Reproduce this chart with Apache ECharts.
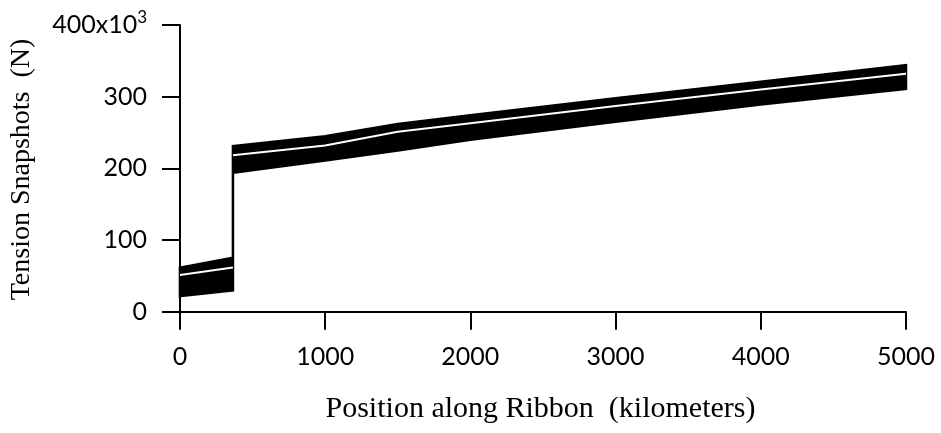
<!DOCTYPE html>
<html>
<head>
<meta charset="utf-8">
<script src="https://cdn.jsdelivr.net/npm/echarts@6/dist/echarts.min.js"></script>
<style>
  html, body { margin: 0; padding: 0; background: #fff; }
  #chart { width: 941px; height: 433px; }
</style>
</head>
<body>
<div id="chart"></div>
<script>
// Position along the ribbon (km); the tension steps up at 365 km.
const positionKm = [0, 365, 365, 1000, 1500, 2000, 3000, 4000, 5000];
// Envelope of the tension snapshots (units of 10^3 N).
const tensionLow  = [22, 30, 194, 211, 225, 240, 265, 289, 311];
const tensionHigh = [61.5, 75.5, 231, 245, 262, 274, 298, 321, 344];
// One highlighted snapshot, before and after the step.
const snapLowKm  = [0, 365];
const snapLow    = [51.5, 62];
const snapHighKm = [365, 1000, 1500, 2000, 3000, 4000, 5000];
const snapHigh   = [218.5, 232, 251, 263, 287, 310, 332];

const xTicks = [0, 1000, 2000, 3000, 4000, 5000];
const yTicks = [0, 100, 200, 300, 400];

const pairs = (xs, ys) => xs.map((x, i) => [x, ys[i]]);

const axisFont = 'Lato';
const titleFont = '"Liberation Serif", "Times New Roman", serif';

// Filled envelope: upper edge left to right, then lower edge back.
function renderBand(params, api) {
  const pts = [];
  positionKm.forEach((x, i) => pts.push(api.coord([x, tensionHigh[i]])));
  for (let i = positionKm.length - 1; i >= 0; i--) pts.push(api.coord([positionKm[i], tensionLow[i]]));
  return {
    type: 'polygon',
    shape: { points: pts },
    style: { fill: '#000', stroke: '#000', lineWidth: 2.5, lineJoin: 'miter' }
  };
}

const chart = echarts.init(document.getElementById('chart'));
chart.setOption({
  animation: false,
  backgroundColor: '#fff',
  grid: { left: 175, right: 35, top: 25, bottom: 119 },
  xAxis: {
    type: 'value',
    min: -34, max: 5000,
    splitLine: { show: false },
    axisLine: { lineStyle: { color: '#000', width: 2 } },
    axisTick: { customValues: xTicks, length: 18, lineStyle: { color: '#000', width: 2 } },
    axisLabel: { customValues: xTicks, color: '#000', fontFamily: axisFont, fontSize: 25, margin: 30,
      formatter: v => String(v) },
    name: 'Position along Ribbon  (kilometers)',
    nameLocation: 'middle',
    nameGap: 80,
    nameTextStyle: { color: '#000', fontFamily: titleFont, fontSize: 30 }
  },
  yAxis: {
    type: 'value',
    min: -3, max: 400,
    splitLine: { show: false },
    axisLine: { lineStyle: { color: '#000', width: 2 } },
    axisTick: { customValues: yTicks, length: 18, lineStyle: { color: '#000', width: 2 } },
    axisLabel: {
      customValues: yTicks,
      color: '#000', fontFamily: axisFont, fontSize: 25, margin: 28,
      formatter: v => v === 400 ? '{a|400x10}{s|3}' : String(v),
      rich: {
        a: { fontFamily: axisFont, fontSize: 25, color: '#000' },
        s: { fontFamily: axisFont, fontSize: 17, color: '#000', verticalAlign: 'top', padding: [0, 0, 14, 0] }
      }
    },
    name: 'Tension Snapshots  (N)',
    nameLocation: 'middle',
    nameGap: 139,
    nameTextStyle: { color: '#000', fontFamily: titleFont, fontSize: 28 }
  },
  series: [
    {
      type: 'custom', data: [[0, 0]], renderItem: renderBand, z: 2, silent: true
    },
    {
      type: 'line', data: pairs(snapLowKm, snapLow), symbol: 'none',
      lineStyle: { color: '#fff', width: 2 }, z: 3
    },
    {
      type: 'line', data: pairs(snapHighKm, snapHigh), symbol: 'none',
      lineStyle: { color: '#fff', width: 2 }, z: 3
    }
  ]
});
</script>
</body>
</html>
